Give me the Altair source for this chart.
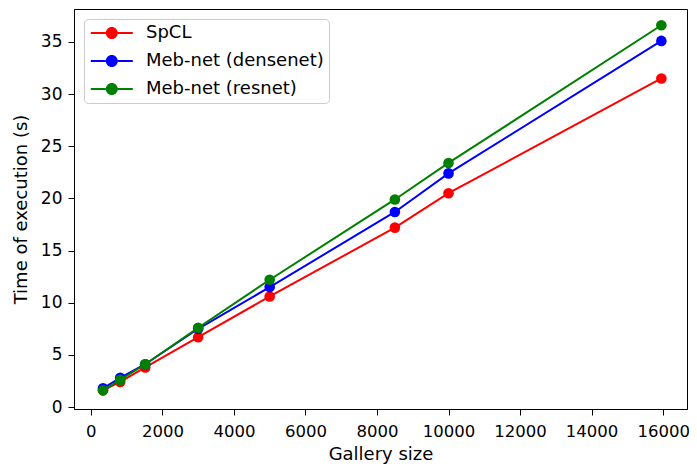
import altair as alt
import pandas as pd

# Data
gallery_sizes = [340, 820, 1520, 3000, 5000, 8500, 10000, 15950]
spcl = [1.6, 2.4, 3.8, 6.7, 10.6, 17.2, 20.5, 31.5]
meb_densenet = [1.8, 2.8, 4.1, 7.5, 11.5, 18.7, 22.4, 35.1]
meb_resnet = [1.6, 2.6, 4.1, 7.6, 12.2, 19.9, 23.4, 36.6]

series_names = ["SpCL", "Meb-net (densenet)", "Meb-net (resnet)"]
series_colors = ["#ff0000", "#0000ff", "#008000"]
x_ticks = [0, 2000, 4000, 6000, 8000, 10000, 12000, 14000, 16000]
y_ticks = [0, 5, 10, 15, 20, 25, 30, 35]

rows = []
for name, vals in zip(series_names, [spcl, meb_densenet, meb_resnet]):
    for s, v in zip(gallery_sizes, vals):
        rows.append({"size": s, "time": v, "series": name})
df = pd.DataFrame(rows)

FONT = "DejaVu Sans"

x_enc = alt.X(
    "size:Q",
    scale=alt.Scale(domain=[-471, 16667], nice=False, zero=False),
    axis=alt.Axis(values=x_ticks, title="Gallery size", format="d",
                  labelPadding=8, titlePadding=6, labelFontSize=16.5),
)
y_enc = alt.Y(
    "time:Q",
    scale=alt.Scale(domain=[-0.19, 38.16], nice=False, zero=False),
    axis=alt.Axis(values=y_ticks, title="Time of execution (s)",
                  labelPadding=6, titlePadding=10),
)

# legend glyph: line segment with a dot in its middle (matplotlib style)
legend_path = ("M-1.2,-0.17L1.32,-0.17L1.32,0.17L-1.2,0.17Z "
               "M3.28,-0.17L5.8,-0.17L5.8,0.17L3.28,0.17Z "
               "M1.3,0A1,1 0 1,0 3.3,0A1,1 0 1,0 1.3,0Z")

legend = alt.Legend(
    title=None, orient="none", legendX=10, legendY=10,
    symbolType=legend_path, symbolSize=144, symbolStrokeWidth=0,
    symbolOpacity=1, labelOffset=39, rowPadding=10, labelLimit=400,
    strokeColor="#cccccc", fillColor="white", cornerRadius=4, padding=5,
    labelFontSize=18, labelFont=FONT, labelColor="black",
)

color_scale = alt.Scale(domain=series_names, range=series_colors)

layers = []
for name, col in zip(series_names, series_colors):
    base = alt.Chart(df).transform_filter(alt.datum.series == name)
    layers.append(
        base.mark_line(strokeWidth=2, color=col).encode(x=x_enc, y=y_enc)
    )
    layers.append(
        base.mark_point(filled=True, size=113, opacity=1).encode(
            x=x_enc, y=y_enc,
            color=alt.Color("series:N", scale=color_scale, legend=legend),
        )
    )

chart = alt.layer(*layers).properties(
    width=613, height=400,
    autosize="none",
    padding={"left": 66, "top": 1, "right": 2, "bottom": 59},
).configure_view(
    stroke="black", strokeWidth=1
).configure_axis(
    grid=False, domainColor="black", tickColor="black", labelColor="black",
    titleColor="black", labelFont=FONT, titleFont=FONT, labelFontSize=17,
    titleFontSize=18, titleFontWeight="normal", tickSize=6,
)

chart.save("out.html", embed_options={"renderer": "svg", "actions": False})
